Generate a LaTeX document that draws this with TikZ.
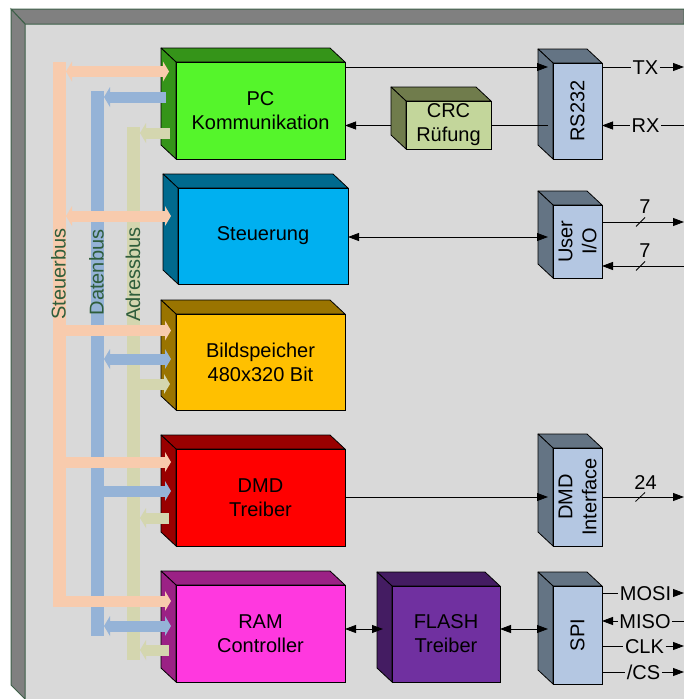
\documentclass[tikz,border=0pt]{standalone}
\usepackage{fontspec}
\setmainfont{Liberation Sans}
\usetikzlibrary{arrows.meta,calc}
\definecolor{panel}{HTML}{D9D9D9}
\definecolor{bevel}{HTML}{808080}
\definecolor{frameline}{HTML}{3E6049}
\definecolor{peach}{HTML}{F8CBAD}
\definecolor{dbuscol}{HTML}{95B3D7}
\definecolor{abuscol}{HTML}{D4D6AF}
\definecolor{buslbl}{HTML}{2F5E3C}
\definecolor{pcF}{HTML}{55F52B}
\definecolor{pcS}{HTML}{359419}
\definecolor{stF}{HTML}{00B0F0}
\definecolor{stS}{HTML}{006A8E}
\definecolor{bsF}{HTML}{FFC000}
\definecolor{bsS}{HTML}{9A7400}
\definecolor{dmdF}{HTML}{FF0000}
\definecolor{dmdS}{HTML}{990000}
\definecolor{ramF}{HTML}{FF38DF}
\definecolor{ramS}{HTML}{9B2185}
\definecolor{flF}{HTML}{7030A0}
\definecolor{flS}{HTML}{441C62}
\definecolor{crcF}{HTML}{C3D69B}
\definecolor{crcS}{HTML}{707C4C}
\definecolor{ioF}{HTML}{B4C7E2}
\definecolor{ioS}{HTML}{647484}
\newcommand\cubebox[8]{%
  \filldraw[fill=#7,draw=black,line width=0.8pt,line join=round] (#2,#3) -- ({#2-15},{#3-14}) -- ({#4-15},{#3-14}) -- (#4,#3) -- cycle;
  \filldraw[fill=#7,draw=black,line width=0.8pt,line join=round] (#2,#3) -- ({#2-15},{#3-14}) -- ({#2-15},{#5-14}) -- (#2,#5) -- cycle;
  \pgfmathsetmacro\cbw{#4-#2}\pgfmathsetmacro\cbh{#5-#3}
  \node[draw=black,fill=#6,line width=0.8pt,minimum width=\cbw pt,minimum height=\cbh pt,inner sep=0pt,outer sep=0pt,align=center,anchor=north west] (#1) at (#2,#3) {#8};
}
\tikzset{
  bt/.tip={Triangle[length=6pt,width=20pt,line width=0pt]},
  ar/.tip={Triangle[length=11pt,width=8pt]},
  pbus/.style={line width=11pt,draw=peach,fill=peach},
  dbus/.style={line width=11pt,draw=dbuscol,fill=dbuscol},
  abus/.style={line width=11pt,draw=abuscol,fill=abuscol},
  busbar/.style={inner sep=0pt,outer sep=0pt,minimum width=13pt,anchor=north},
  sig/.style={inner xsep=1.5pt,inner ysep=0pt,text height=14.3pt,text depth=0pt},
  conn/.style={line width=0.8pt,draw=black},
}
\begin{document}
\begin{tikzpicture}[x=1pt,y=-1pt,font=\fontsize{20}{24}\selectfont]
\useasboundingbox (0,0) rectangle (684,699);
% frame
\fill[panel] (25,24) rectangle (684,699);
\filldraw[fill=bevel,draw=frameline,line width=1pt] (11,9) -- (684,9) -- (684,24) -- (25,24) -- cycle;
\filldraw[fill=bevel,draw=frameline,line width=1pt] (11,9) -- (25,24) -- (25,699) -- (11,685) -- cycle;
\coordinate (edge) at (684,0);
% bus bars
\node[busbar,fill=peach,minimum height=545pt] (sbus) at (59.5,62) {};
\node[busbar,fill=dbuscol,minimum height=545pt] (dbusbar) at (97.5,91) {};
\node[busbar,fill=abuscol,minimum height=533pt] (abusbar) at (133.5,127) {};
\node[rotate=90,text=buslbl] (sbl) at (58.5,274) {Steuerbus};
\node[rotate=90,text=buslbl] (dbl) at (96.5,272.5) {Datenbus};
\node[rotate=90,text=buslbl] (abl) at (133,274.5) {Adressbus};
% boxes
\cubebox{pc}{176}{62}{345}{159}{pcF}{pcS}{PC\\Kommunikation}
\cubebox{st}{178}{188}{348}{284}{stF}{stS}{Steuerung}
\cubebox{bs}{176}{314}{345}{410}{bsF}{bsS}{Bildspeicher\\480x320 Bit}
\cubebox{dmd}{176}{449}{345}{546}{dmdF}{dmdS}{DMD\\Treiber}
\cubebox{ram}{176}{585}{345}{682}{ramF}{ramS}{RAM\\Controller}
\cubebox{flash}{392}{586}{500}{682}{flF}{flS}{FLASH\\Treiber}
\cubebox{crc}{406}{101}{491}{149}{crcF}{crcS}{CRC\\Rüfung}
\cubebox{rs}{553}{63}{602}{159}{ioF}{ioS}{}
\cubebox{uio}{553}{205}{602}{278}{ioF}{ioS}{}
\cubebox{dmdi}{553}{448}{602}{546}{ioF}{ioS}{}
\cubebox{spi}{553}{586}{602}{684}{ioF}{ioS}{}
\node[rotate=90] (rst) at (rs) {RS232};
\node[rotate=90,align=center] (uiot) at (uio) {User\\I/O};
\node[rotate=90,align=center] (dmdit) at (dmdi) {DMD\\Interface};
\node[rotate=90] (spit) at (spi) {SPI};
% bus arrows: Steuerbus
\draw[pbus,bt-bt,shorten >=7pt] (sbus.east |- 0,71.5) -- (pc.west |- 0,71.5);
\draw[pbus,bt-bt,shorten >=7pt] (sbus.east |- 0,216) -- (st.west |- 0,216);
\draw[pbus,-bt,shorten >=5pt] (sbus.center |- 0,330.5) -- (bs.west |- 0,330.5);
\draw[pbus,-bt,shorten >=5pt] (sbus.center |- 0,462) -- (dmd.west |- 0,462);
\draw[pbus,-bt,shorten >=5pt] (sbus.center |- 0,601) -- (ram.west |- 0,601);
% Datenbus
\draw[dbus,-bt,shorten <=10pt] (pc.west |- 0,97) -- (dbusbar.east |- 0,97);
\draw[dbus,bt-bt,shorten >=5pt] (dbusbar.east |- 0,359) -- (bs.west |- 0,359);
\draw[dbus,-bt,shorten >=5pt] (dbusbar.center |- 0,491) -- (dmd.west |- 0,491);
\draw[dbus,bt-bt,shorten >=5pt] (dbusbar.east |- 0,626) -- (ram.west |- 0,626);
% Adressbus
\draw[abus,-bt,shorten <=6pt] (pc.west |- 0,133) -- (abusbar.east |- 0,133);
\draw[abus,-bt,shorten >=6pt] (abusbar.center |- 0,384) -- (bs.west |- 0,384);
\draw[abus,-bt,shorten <=7pt] (dmd.west |- 0,518) -- (abusbar.east |- 0,518);
\draw[abus,-bt,shorten <=7pt] (ram.west |- 0,650) -- (abusbar.east |- 0,650);
% inner connectors
\draw[conn,-ar,shorten >=5pt] (pc.east |- 0,67) -- (rs.west |- 0,67);
\draw[conn,shorten <=5pt] (rs.west |- 0,125.5) -- (crc.east |- 0,125.5);
\draw[conn,-ar,shorten <=15pt] (crc.west |- 0,125.5) -- (pc.east |- 0,125.5);
\draw[conn,ar-ar,shorten >=5pt] (st.east |- 0,237) -- (uio.west |- 0,237);
\draw[conn,-ar,shorten >=5pt] (dmd.east |- 0,497) -- (dmdi.west |- 0,497);
\draw[conn,ar-ar,shorten >=9pt] (ram.east |- 0,629) -- (flash.west |- 0,629);
\draw[conn,ar-ar,shorten >=5pt] (flash.east |- 0,629) -- (spi.west |- 0,629);
% RS232 signals
\node[sig] (tx) at (645.5,67) {TX};
\draw[conn] (rs.east |- tx) -- (tx.west);
\draw[conn,-ar] (tx.east) -- (edge |- tx);
\node[sig] (rx) at (645.5,125.5) {RX};
\draw[conn,-ar] (rx.west) -- (rs.east |- rx);
\draw[conn] (edge |- rx) -- (rx.east);
% User I/O signals
\draw[conn,-ar] (uio.east |- 0,222) -- (edge |- 0,222);
\draw[conn] (636,226.5) -- (645,217.5);
\node[sig] (n7a) at (645,206) {7};
\draw[conn,-ar] (edge |- 0,266) -- (uio.east |- 0,266);
\draw[conn] (636,270.5) -- (645,261.5);
\node[sig] (n7b) at (645,250) {7};
% DMD interface
\draw[conn,-ar] (dmdi.east |- 0,497) -- (edge |- 0,497);
\draw[conn] (635.5,501.5) -- (645,492.5);
\node[sig] (n24) at (645.5,482) {24};
% SPI signals
\node[sig] (mosi) at (645.5,593) {MOSI};
\draw[conn] (spi.east |- mosi) -- (mosi.west);
\draw[conn,-ar] (mosi.east) -- (edge |- mosi);
\node[sig] (miso) at (645,621) {MISO};
\draw[conn,-ar] (miso.west) -- (spi.east |- miso);
\draw[conn] (edge |- miso) -- (miso.east);
\node[sig] (clk) at (644.5,646) {CLK};
\draw[conn] (spi.east |- clk) -- (clk.west);
\draw[conn,-ar] (clk.east) -- (edge |- clk);
\node[sig] (cs) at (643.5,672) {/CS};
\draw[conn] (spi.east |- cs) -- (cs.west);
\draw[conn,-ar] (cs.east) -- (edge |- cs);
\end{tikzpicture}
\end{document}
